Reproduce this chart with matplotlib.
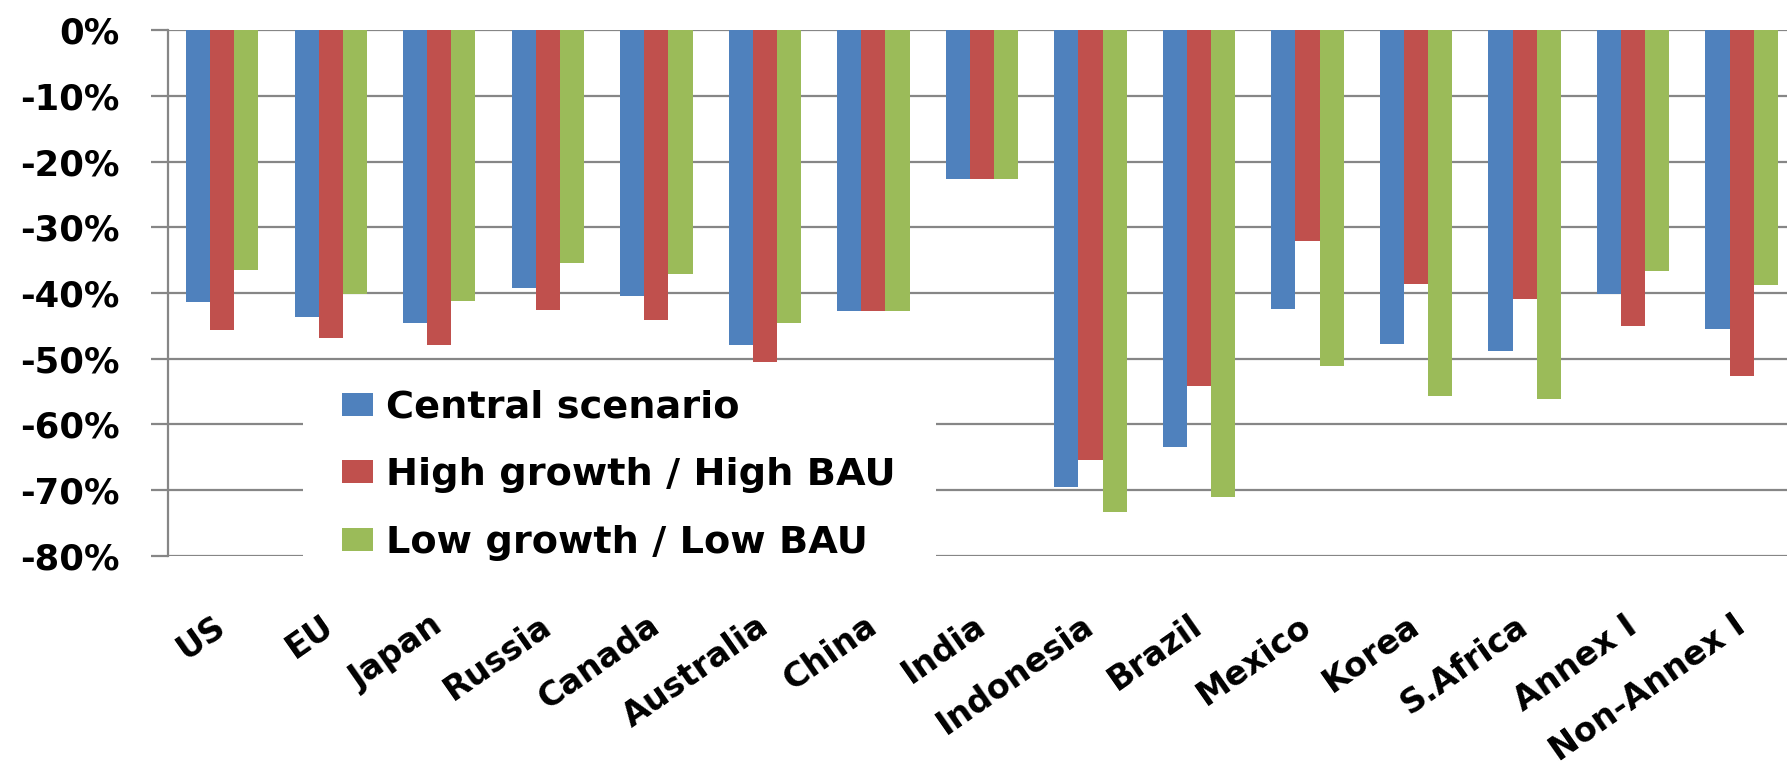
import matplotlib
matplotlib.use("Agg")
import matplotlib.pyplot as plt
import numpy as np
from matplotlib.patches import Rectangle
from matplotlib.ticker import PercentFormatter

regions = ["US", "EU", "Japan", "Russia", "Canada", "Australia", "China", "India",
           "Indonesia", "Brazil", "Mexico", "Korea", "S.Africa", "Annex I", "Non-Annex I"]
central = [-41.3, -43.6, -44.6, -39.2, -40.5, -47.9, -42.7, -22.6,
           -69.6, -63.5, -42.4, -47.7, -48.9, -40.1, -45.5]
high_growth = [-45.6, -46.8, -47.9, -42.6, -44.1, -50.8, -42.7, -22.6,
               -65.4, -54.2, -32.1, -38.7, -40.9, -45.0, -52.6]
low_growth = [-36.5, -40.1, -41.2, -35.5, -37.1, -44.6, -42.7, -22.6,
              -73.3, -71.1, -51.1, -55.7, -56.2, -36.6, -38.8]
series_names = ["Central scenario", "High growth / High BAU", "Low growth / Low BAU"]
yticks = [0, -10, -20, -30, -40, -50, -60, -70, -80]

colors = ["#4F81BD", "#C0504D", "#9BBB59"]
grid_color = "#868686"

plt.rcParams["font.family"] = ["DejaVu Sans"]
plt.rcParams["axes.unicode_minus"] = False
fig = plt.figure(figsize=(17.87, 7.72), dpi=100)
ax = fig.add_axes([0.094, 0.280, 0.911, 0.681])

x = np.arange(len(regions))
w = 1 / 4.5
for i, (vals, name) in enumerate(zip([central, high_growth, low_growth], series_names)):
    ax.bar(x + (i - 1) * w, vals, width=w, color=colors[i], label=name, zorder=3)

ax.set_xlim(-0.5, len(regions) - 0.5)
ax.set_ylim(-80, 0)
ax.set_yticks(yticks)
ax.yaxis.set_major_formatter(PercentFormatter(decimals=0))
ax.grid(axis="y", color=grid_color, linewidth=1.6, zorder=0)
ax.set_axisbelow(True)

for side in ["top", "right", "bottom"]:
    ax.spines[side].set_visible(False)
ax.spines["left"].set_color(grid_color)
ax.spines["left"].set_linewidth(1.6)

ax.tick_params(axis="y", length=12, width=1.6, color=grid_color, labelsize=25.5, pad=23)
ax.tick_params(axis="x", length=0, labelsize=24, pad=48)
for lab in ax.get_yticklabels():
    lab.set_fontweight("bold")

ax.set_xticks(x)
ax.set_xticklabels(regions, rotation=35, ha="right", va="center",
                   rotation_mode="anchor", fontweight="bold")

# white box behind the legend hides the lower gridlines, as in the original
ax.add_patch(Rectangle((0.083, -0.046), 0.389, 0.415, transform=ax.transAxes,
                       facecolor="white", edgecolor="none", zorder=4, clip_on=False))
leg = ax.legend(loc="upper left", bbox_to_anchor=(0.107, 0.316), frameon=False,
                fontsize=27.5, handlelength=0.8, handleheight=0.55, handletextpad=0.34,
                labelspacing=0.83, borderpad=0, borderaxespad=0)
leg.set_zorder(5)
for t in leg.get_texts():
    t.set_fontweight("bold")

fig.savefig("out.png", dpi=100)
